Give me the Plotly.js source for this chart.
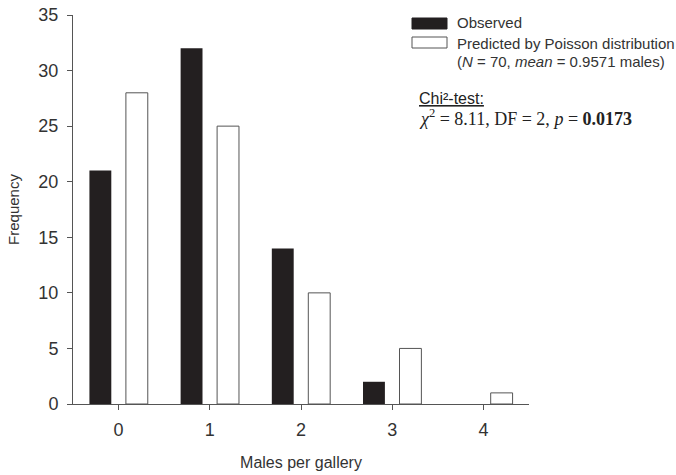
<!DOCTYPE html>
<html>
<head>
<meta charset="utf-8">
<script src="https://cdn.plot.ly/plotly-3.0.1.min.js"></script>
<style>html,body{margin:0;padding:0;background:#fff;}</style>
</head>
<body>
<div id="chart" style="width:676px;height:475px;"></div>
<script>
const males = [0, 1, 2, 3, 4];
const observed = [21, 32, 14, 2, 0];
const predicted = [28, 25, 10, 5, 1];
const tickLabels = ['0', '1', '2', '3', '4'];

const L = 73, R = 529, T = 15, B = 404;
const px = x => (x - L) / (R - L);
const py = y => (B - y) / (B - T);

const traces = [
  {type: 'bar', x: males, y: observed, name: 'Observed',
   marker: {color: '#231f20', line: {color: '#231f20', width: 0}}},
  {type: 'bar', x: males, y: predicted, name: 'Predicted by Poisson distribution',
   marker: {color: '#ffffff', line: {color: '#555555', width: 1}}}
];

const layout = {
  width: 676, height: 475,
  margin: {l: L, r: 676 - R, t: T, b: 475 - B},
  paper_bgcolor: '#fff', plot_bgcolor: '#fff',
  barmode: 'group', bargap: 0.2, bargroupgap: 0.4,
  showlegend: false,
  font: {family: 'Liberation Sans, Arial, sans-serif', color: '#333'},
  xaxis: {
    range: [-0.5, 4.5], tickvals: males, ticktext: tickLabels,
    showgrid: false, zeroline: false, showline: true, linecolor: '#555', linewidth: 1,
    ticks: 'outside', ticklen: 5, tickcolor: '#555', ticklabelstandoff: 4,
    tickfont: {size: 18, color: '#333'},
    title: {text: 'Males per gallery', font: {size: 16, color: '#333'}, standoff: 18}
  },
  yaxis: {
    range: [0, 35], dtick: 5,
    showgrid: false, zeroline: false, showline: true, linecolor: '#555', linewidth: 1,
    ticks: 'outside', ticklen: 5, tickcolor: '#555', ticklabelstandoff: 5,
    tickfont: {size: 18, color: '#333'},
    title: {text: 'Frequency', font: {size: 15, color: '#333'}, standoff: 15}
  },
  shapes: [
    {type: 'rect', xref: 'paper', yref: 'paper', x0: px(412), x1: px(447), y0: py(29), y1: py(18),
     fillcolor: '#231f20', line: {color: '#231f20', width: 1}},
    {type: 'rect', xref: 'paper', yref: 'paper', x0: px(412), x1: px(447), y0: py(48), y1: py(37),
     fillcolor: '#fff', line: {color: '#555', width: 1}}
  ],
  annotations: [
    {xref: 'paper', yref: 'paper', x: px(455), y: py(23), xanchor: 'left', yanchor: 'middle',
     text: 'Observed', showarrow: false, font: {size: 15, color: '#333'}},
    {xref: 'paper', yref: 'paper', x: px(455), y: py(43), xanchor: 'left', yanchor: 'middle',
     text: 'Predicted by Poisson distribution', showarrow: false, font: {size: 15, color: '#333'}},
    {xref: 'paper', yref: 'paper', x: px(455), y: py(62), xanchor: 'left', yanchor: 'middle',
     text: '(<i>N</i> = 70, <i>mean</i> = 0.9571 males)', showarrow: false, font: {size: 15, color: '#333'}},
    {xref: 'paper', yref: 'paper', x: px(417), y: py(98), xanchor: 'left', yanchor: 'middle',
     text: '<u>Chi²-test:</u>', showarrow: false, font: {size: 16, color: '#222'}},
    {xref: 'paper', yref: 'paper', x: px(417), y: py(117), xanchor: 'left', yanchor: 'middle',
     text: '<i>χ</i><sup>2</sup> = 8.11, DF = 2, <i>p</i> = <b>0.0173</b>', showarrow: false,
     font: {size: 18, color: '#222', family: 'Liberation Serif, Times New Roman, serif'}}
  ]
};

Plotly.newPlot('chart', traces, layout, {displayModeBar: false, staticPlot: true});
</script>
</body>
</html>
